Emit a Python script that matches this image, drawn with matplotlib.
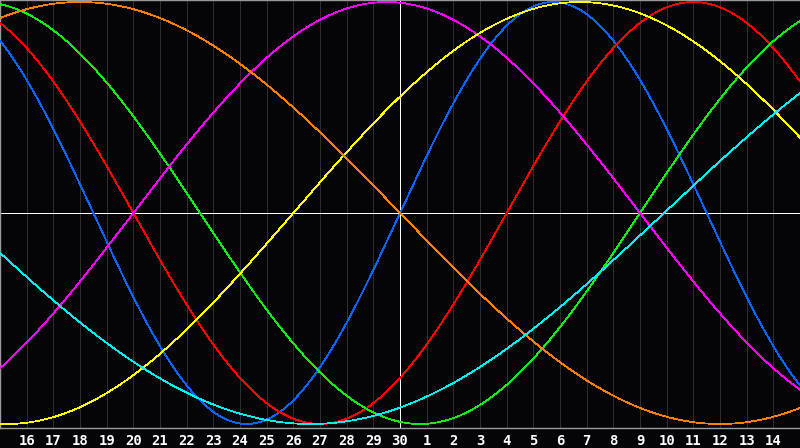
import matplotlib
matplotlib.use("Agg")
import matplotlib.pyplot as plt
import numpy as np

# day labels along the bottom (30-day window centred on day 30)
day_labels = [str(d) for d in range(16, 31)] + [str(d) for d in range(1, 15)]
window_days = 30
today_offset = 15

# cycle lengths (days) and the window offset of each upward zero crossing
cycle_names = ["physical", "emotional", "intellectual", "intuitive",
               "aesthetic", "awareness", "spiritual"]
cycle_periods = [23, 28, 33, 38, 43, 48, 53]
cycle_zero_up = [15.0, 19.0, 24.0, 5.0, 11.0, -9.0, 24.9]
cycle_colors = ["#0a64ff", "#ff0000", "#10f010", "#ff00ff",
                "#ffff00", "#ff7f00", "#00f0f0"]

BG = "#050508"

fig = plt.figure(figsize=(8.0, 4.48), dpi=100, facecolor=BG)
ax = fig.add_axes([0, 20 / 448, 1, 428 / 448])
ax.set_facecolor(BG)

d = np.linspace(0, window_days, 1600)
for period, zero_up, color in zip(cycle_periods, cycle_zero_up, cycle_colors):
    ax.plot(d, np.sin(2 * np.pi * (d - zero_up) / period),
            color=color, linewidth=0.55, antialiased=False, zorder=3)

# day grid
for i in range(1, window_days):
    ax.axvline(i, color="#2e2e32", linewidth=0.7, antialiased=False, zorder=1)

ax.axvline(today_offset, color="white", linewidth=0.7, antialiased=False, zorder=2)
ax.axhline(0, color="white", linewidth=0.7, antialiased=False, zorder=2)

ax.set_xlim(0, window_days)
ax.set_ylim(-215 / 211, 213 / 211)

ax.set_xticks(range(1, window_days))
ax.set_xticklabels(day_labels, family="DejaVu Sans Mono", fontweight="bold",
                   fontsize=10, color="white")
ax.tick_params(axis="x", length=0, pad=4)
ax.set_yticks([])

for side in ("left", "top", "bottom"):
    ax.spines[side].set_color("#9a9a9a")
    ax.spines[side].set_linewidth(1.0)
ax.spines["right"].set_visible(False)

fig.savefig("out.png", dpi=100, facecolor=BG)
